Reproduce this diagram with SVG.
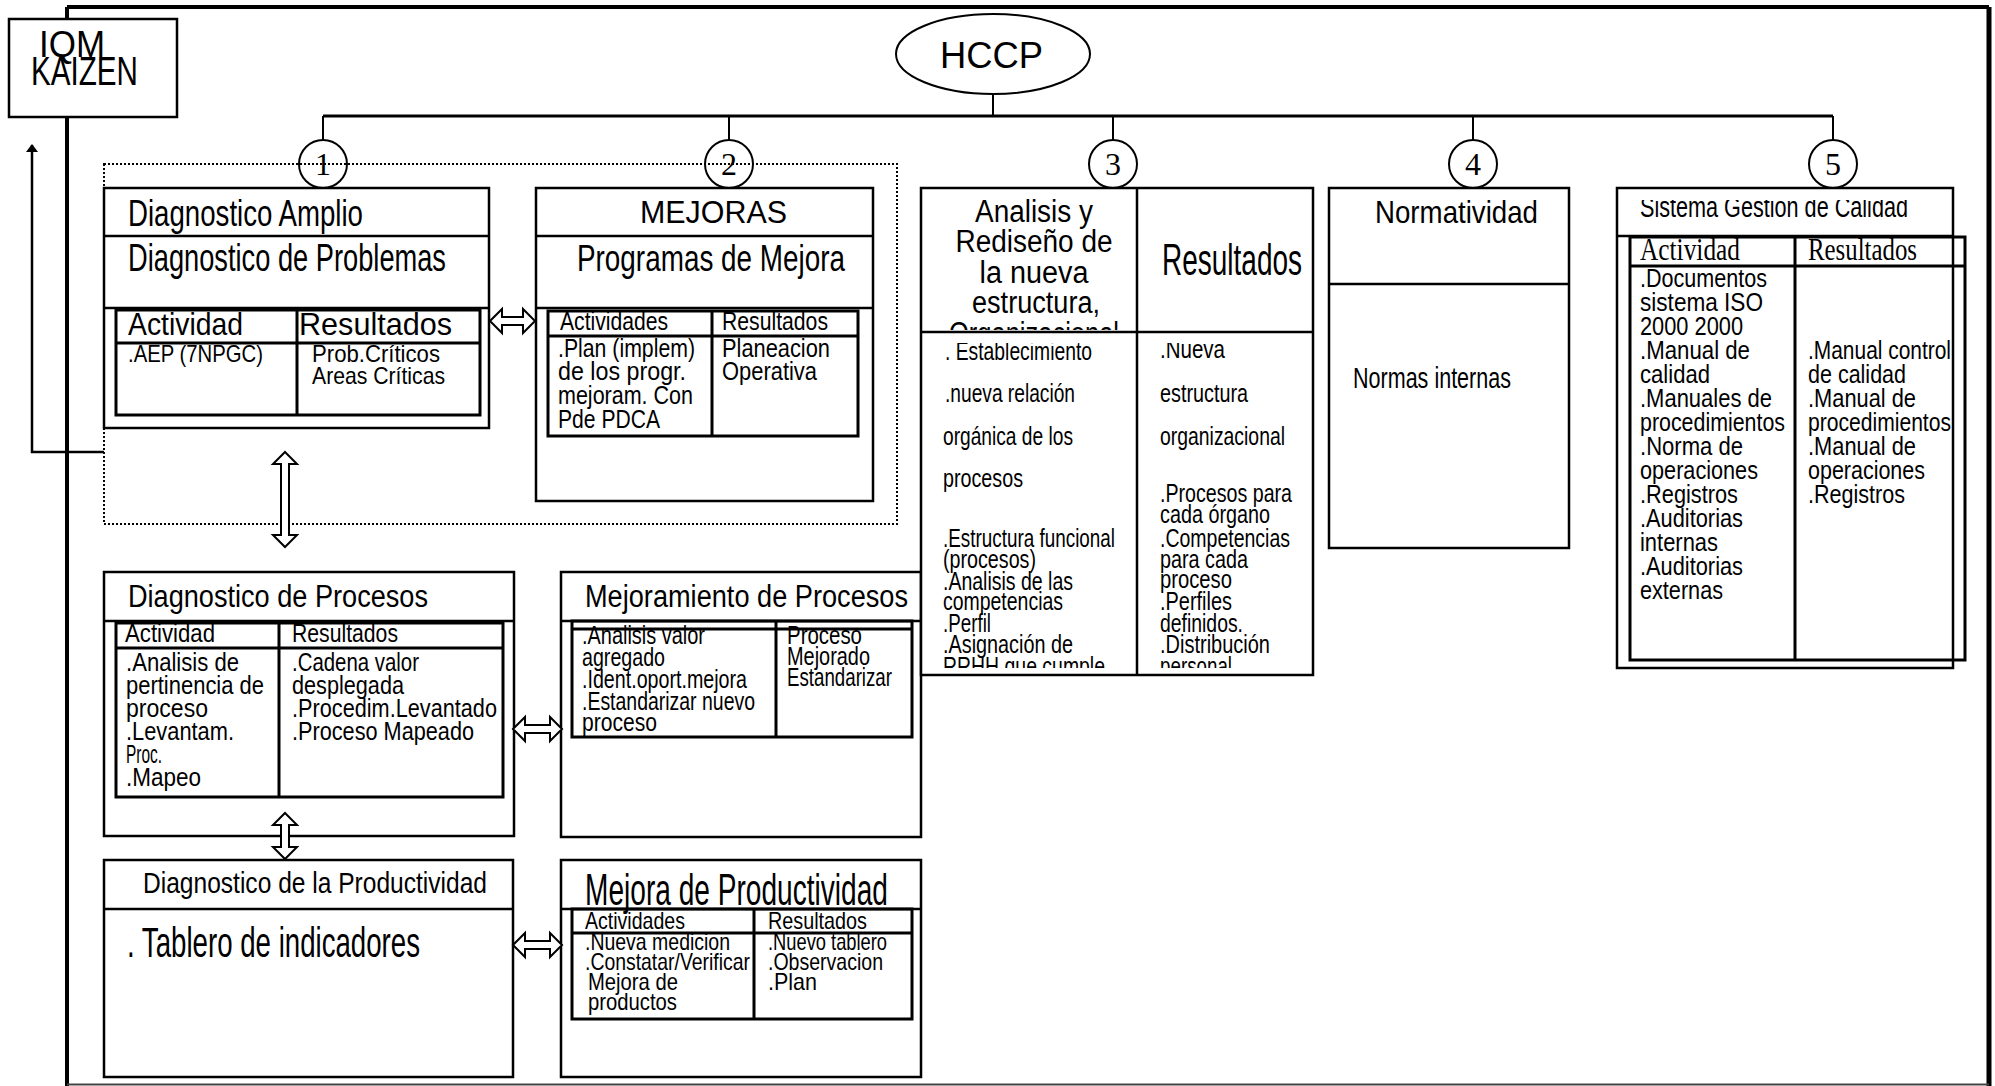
<svg xmlns="http://www.w3.org/2000/svg" width="1995" height="1086" viewBox="0 0 1995 1086">
  <style>
    .bx { fill: #fff; stroke: #000; stroke-width: 2.5; }
    .tb { fill: none; stroke: #000; stroke-width: 3; }
    .ln { fill: none; stroke: #000; stroke-width: 2.5; }
    .cn { fill: none; stroke: #000; stroke-width: 2; }
    .num { fill: none; stroke: #000; stroke-width: 2; }
    .dbl { fill: #fff; stroke: #000; stroke-width: 2; stroke-linejoin: miter; }
    .dot { fill: none; stroke: #000; stroke-width: 2; stroke-dasharray: 2 2; }
    text { font-family: "Liberation Sans", Arial, sans-serif; fill: #000; }
    .sf { font-family: "Liberation Serif", "Times New Roman", serif; }
  </style>
  <defs>
    <marker id="tip" markerUnits="userSpaceOnUse" markerWidth="8" markerHeight="12" refX="7" refY="6" orient="auto" viewBox="0 0 8 12">
      <path d="M0,0 L8,6 L0,12 Z" fill="#000"/>
    </marker>
    <clipPath id="c3h"><rect x="921" y="190" width="216" height="140"/></clipPath>
    <clipPath id="c3b"><rect x="921" y="343" width="392" height="325"/></clipPath>
    <clipPath id="c5t"><rect x="1617" y="200" width="336" height="35"/></clipPath>
  </defs>

  <rect width="1995" height="1086" fill="#fff"/>

  <!-- outer frame -->
  <g id="frame">
    <path d="M67,7 H1989" stroke="#000" stroke-width="4" fill="none"/>
    <path d="M67,7 V1086" stroke="#000" stroke-width="4" fill="none"/>
    <path d="M1989,7 V1086" stroke="#000" stroke-width="5" fill="none"/>
    <path d="M67,1084.5 H1989" stroke="#444" stroke-width="2" fill="none"/>
  </g>

  <!-- dotted grouping around stages 1 and 2 -->
  <rect class="dot" x="104" y="164" width="793" height="360"/>

  <!-- top nodes -->
  <g id="n-iqm">
    <rect class="bx" x="9" y="19" width="168" height="98"/>
    <text x="39" y="57" font-size="37" textLength="66" lengthAdjust="spacingAndGlyphs">IQM</text>
    <text x="31" y="85" font-size="40" textLength="107" lengthAdjust="spacingAndGlyphs">KAIZEN</text>
  </g>

  <g id="n-hccp">
    <ellipse cx="993" cy="54" rx="97" ry="40" fill="#fff" stroke="#000" stroke-width="2"/>
    <text x="940" y="68" font-size="36" textLength="103" lengthAdjust="spacingAndGlyphs">HCCP</text>
  </g>

  <!-- stage 1 -->
  <g id="n-diag-amplio">
    <rect class="bx" x="104" y="188" width="385" height="240"/>
    <path class="ln" d="M104,236 H489 M104,308 H489"/>
    <rect class="tb" x="116" y="310" width="364" height="105"/>
    <path class="tb" d="M116,343 H480 M297,310 V415"/>
    <text x="128" y="226" font-size="36" textLength="235" lengthAdjust="spacingAndGlyphs">Diagnostico Amplio</text>
    <text x="128" y="271" font-size="38" textLength="318" lengthAdjust="spacingAndGlyphs">Diagnostico de Problemas</text>
    <text x="128" y="335" font-size="32" textLength="115" lengthAdjust="spacingAndGlyphs">Actividad</text>
    <text x="299" y="335" font-size="32" textLength="153" lengthAdjust="spacingAndGlyphs">Resultados</text>
    <text x="128" y="362" font-size="24" textLength="135" lengthAdjust="spacingAndGlyphs">.AEP (7NPGC)</text>
    <text x="312" y="362" font-size="24" textLength="128" lengthAdjust="spacingAndGlyphs">Prob.Críticos</text>
    <text x="312" y="384" font-size="24" textLength="133" lengthAdjust="spacingAndGlyphs">Areas Críticas</text>
  </g>

  <!-- stage 2 -->
  <g id="n-mejoras">
    <rect class="bx" x="536" y="188" width="337" height="313"/>
    <path class="ln" d="M536,236 H873 M536,308 H873"/>
    <rect class="tb" x="548" y="311" width="310" height="125"/>
    <path class="tb" d="M548,336 H858 M712,311 V436"/>
    <text x="640" y="223" font-size="32" textLength="147" lengthAdjust="spacingAndGlyphs">MEJORAS</text>
    <text x="577" y="271" font-size="37" textLength="268" lengthAdjust="spacingAndGlyphs">Programas de Mejora</text>
    <text x="560" y="330" font-size="26" textLength="108" lengthAdjust="spacingAndGlyphs">Actividades</text>
    <text x="722" y="330" font-size="26" textLength="106" lengthAdjust="spacingAndGlyphs">Resultados</text>
    <text x="558" y="357" font-size="26" textLength="137" lengthAdjust="spacingAndGlyphs">.Plan (implem)</text>
    <text x="558" y="380" font-size="26" textLength="128" lengthAdjust="spacingAndGlyphs">de los progr.</text>
    <text x="558" y="404" font-size="26" textLength="135" lengthAdjust="spacingAndGlyphs">mejoram. Con</text>
    <text x="558" y="428" font-size="26" textLength="102" lengthAdjust="spacingAndGlyphs">Pde PDCA</text>
    <text x="722" y="357" font-size="26" textLength="108" lengthAdjust="spacingAndGlyphs">Planeacion</text>
    <text x="722" y="380" font-size="26" textLength="95" lengthAdjust="spacingAndGlyphs">Operativa</text>
  </g>

  <g id="n-diag-procesos">
    <rect class="bx" x="104" y="572" width="410" height="264"/>
    <path class="ln" d="M104,621 H514"/>
    <rect class="tb" x="116" y="623" width="387" height="174"/>
    <path class="tb" d="M116,648 H503 M279,623 V797"/>
    <text x="128" y="607" font-size="31" textLength="300" lengthAdjust="spacingAndGlyphs">Diagnostico de Procesos</text>
    <text x="125" y="642" font-size="26" textLength="90" lengthAdjust="spacingAndGlyphs">Actividad</text>
    <text x="292" y="642" font-size="26" textLength="106" lengthAdjust="spacingAndGlyphs">Resultados</text>
    <text x="126" y="671" font-size="25" textLength="113" lengthAdjust="spacingAndGlyphs">.Analisis de</text>
    <text x="126" y="694" font-size="25" textLength="138" lengthAdjust="spacingAndGlyphs">pertinencia de</text>
    <text x="126" y="717" font-size="25" textLength="82" lengthAdjust="spacingAndGlyphs">proceso</text>
    <text x="126" y="740" font-size="25" textLength="108" lengthAdjust="spacingAndGlyphs">.Levantam.</text>
    <text x="126" y="763" font-size="25" textLength="36" lengthAdjust="spacingAndGlyphs">Proc.</text>
    <text x="126" y="786" font-size="25" textLength="75" lengthAdjust="spacingAndGlyphs">.Mapeo</text>
    <text x="292" y="671" font-size="25" textLength="127" lengthAdjust="spacingAndGlyphs">.Cadena valor</text>
    <text x="292" y="694" font-size="25" textLength="112" lengthAdjust="spacingAndGlyphs">desplegada</text>
    <text x="292" y="717" font-size="25" textLength="205" lengthAdjust="spacingAndGlyphs">.Procedim.Levantado</text>
    <text x="292" y="740" font-size="25" textLength="182" lengthAdjust="spacingAndGlyphs">.Proceso Mapeado</text>
  </g>

  <g id="n-mejoramiento-procesos">
    <rect class="bx" x="561" y="572" width="360" height="265"/>
    <path class="ln" d="M561,621 H921"/>
    <rect class="tb" x="572" y="621" width="340" height="116"/>
    <path class="tb" d="M572,629 H912 M776,621 V737"/>
    <text x="585" y="607" font-size="31" textLength="323" lengthAdjust="spacingAndGlyphs">Mejoramiento de Procesos</text>
    <text x="582" y="644" font-size="25" textLength="123" lengthAdjust="spacingAndGlyphs">.Analisis valor</text>
    <text x="582" y="666" font-size="25" textLength="83" lengthAdjust="spacingAndGlyphs">agregado</text>
    <text x="582" y="688" font-size="25" textLength="165" lengthAdjust="spacingAndGlyphs">.Ident.oport.mejora</text>
    <text x="582" y="710" font-size="25" textLength="173" lengthAdjust="spacingAndGlyphs">.Estandarizar nuevo</text>
    <text x="582" y="731" font-size="25" textLength="75" lengthAdjust="spacingAndGlyphs">proceso</text>
    <text x="787" y="644" font-size="25" textLength="75" lengthAdjust="spacingAndGlyphs">Proceso</text>
    <text x="787" y="665" font-size="25" textLength="83" lengthAdjust="spacingAndGlyphs">Mejorado</text>
    <text x="787" y="686" font-size="25" textLength="105" lengthAdjust="spacingAndGlyphs">Estandarizar</text>
  </g>

  <g id="n-diag-productividad">
    <rect class="bx" x="104" y="860" width="409" height="217"/>
    <path class="ln" d="M104,909 H513"/>
    <text x="143" y="893" font-size="29" textLength="344" lengthAdjust="spacingAndGlyphs">Diagnostico de la Productividad</text>
    <text x="127" y="957" font-size="42" textLength="293" lengthAdjust="spacingAndGlyphs">. Tablero de indicadores</text>
  </g>

  <g id="n-mejora-productividad">
    <rect class="bx" x="561" y="860" width="360" height="217"/>
    <path class="ln" d="M561,909 H921"/>
    <rect class="tb" x="572" y="909" width="340" height="110"/>
    <path class="tb" d="M572,933 H912 M754,909 V1019"/>
    <text x="585" y="905" font-size="45" textLength="303" lengthAdjust="spacingAndGlyphs">Mejora de Productividad</text>
    <text x="585" y="929" font-size="24" textLength="100" lengthAdjust="spacingAndGlyphs">Actividades</text>
    <text x="768" y="929" font-size="24" textLength="99" lengthAdjust="spacingAndGlyphs">Resultados</text>
    <text x="585" y="950" font-size="24" textLength="145" lengthAdjust="spacingAndGlyphs">.Nueva medicion</text>
    <text x="585" y="970" font-size="24" textLength="165" lengthAdjust="spacingAndGlyphs">.Constatar/Verificar</text>
    <text x="588" y="990" font-size="24" textLength="90" lengthAdjust="spacingAndGlyphs">Mejora de</text>
    <text x="588" y="1010" font-size="24" textLength="89" lengthAdjust="spacingAndGlyphs">productos</text>
    <text x="768" y="950" font-size="24" textLength="119" lengthAdjust="spacingAndGlyphs">.Nuevo tablero</text>
    <text x="768" y="970" font-size="24" textLength="115" lengthAdjust="spacingAndGlyphs">.Observacion</text>
    <text x="768" y="990" font-size="24" textLength="49" lengthAdjust="spacingAndGlyphs">.Plan</text>
  </g>

  <!-- stage 3 -->
  <g id="n-analisis-rediseno">
    <rect class="bx" x="921" y="188" width="392" height="487"/>
    <path class="ln" d="M921,332 H1313 M1137,188 V675"/>
    <g clip-path="url(#c3h)" text-anchor="middle">
      <text x="1034" y="222" font-size="31" textLength="118" lengthAdjust="spacingAndGlyphs">Analisis y</text>
      <text x="1034" y="252" font-size="31" textLength="157" lengthAdjust="spacingAndGlyphs">Rediseño de</text>
      <text x="1034" y="283" font-size="31" textLength="109" lengthAdjust="spacingAndGlyphs">la nueva</text>
      <text x="1036" y="313" font-size="31" textLength="128" lengthAdjust="spacingAndGlyphs">estructura,</text>
      <text x="1034" y="344" font-size="31" textLength="170" lengthAdjust="spacingAndGlyphs">Organizacional</text>
    </g>
    <text x="1162" y="275" font-size="45" textLength="140" lengthAdjust="spacingAndGlyphs">Resultados</text>
    <g clip-path="url(#c3b)">
      <text x="945" y="360" font-size="26" textLength="147" lengthAdjust="spacingAndGlyphs">. Establecimiento</text>
      <text x="945" y="402" font-size="26" textLength="130" lengthAdjust="spacingAndGlyphs">.nueva relación</text>
      <text x="943" y="445" font-size="26" textLength="130" lengthAdjust="spacingAndGlyphs">orgánica de los</text>
      <text x="943" y="487" font-size="26" textLength="80" lengthAdjust="spacingAndGlyphs">procesos</text>
      <text x="943" y="547" font-size="26" textLength="172" lengthAdjust="spacingAndGlyphs">.Estructura funcional</text>
      <text x="943" y="568" font-size="26" textLength="93" lengthAdjust="spacingAndGlyphs">(procesos)</text>
      <text x="943" y="590" font-size="26" textLength="130" lengthAdjust="spacingAndGlyphs">.Analisis de las</text>
      <text x="943" y="610" font-size="26" textLength="120" lengthAdjust="spacingAndGlyphs">competencias</text>
      <text x="943" y="632" font-size="26" textLength="48" lengthAdjust="spacingAndGlyphs">.Perfil</text>
      <text x="943" y="653" font-size="26" textLength="130" lengthAdjust="spacingAndGlyphs">.Asignación de</text>
      <text x="943" y="675" font-size="26" textLength="162" lengthAdjust="spacingAndGlyphs">RRHH que cumple</text>
      <text x="1160" y="358" font-size="26" textLength="65" lengthAdjust="spacingAndGlyphs">.Nueva</text>
      <text x="1160" y="402" font-size="26" textLength="88" lengthAdjust="spacingAndGlyphs">estructura</text>
      <text x="1160" y="445" font-size="26" textLength="125" lengthAdjust="spacingAndGlyphs">organizacional</text>
      <text x="1160" y="502" font-size="26" textLength="132" lengthAdjust="spacingAndGlyphs">.Procesos para</text>
      <text x="1160" y="523" font-size="26" textLength="110" lengthAdjust="spacingAndGlyphs">cada órgano</text>
      <text x="1160" y="547" font-size="26" textLength="130" lengthAdjust="spacingAndGlyphs">.Competencias</text>
      <text x="1160" y="568" font-size="26" textLength="88" lengthAdjust="spacingAndGlyphs">para cada</text>
      <text x="1160" y="588" font-size="26" textLength="72" lengthAdjust="spacingAndGlyphs">proceso</text>
      <text x="1160" y="610" font-size="26" textLength="72" lengthAdjust="spacingAndGlyphs">.Perfiles</text>
      <text x="1160" y="632" font-size="26" textLength="83" lengthAdjust="spacingAndGlyphs">definidos.</text>
      <text x="1160" y="653" font-size="26" textLength="110" lengthAdjust="spacingAndGlyphs">.Distribución</text>
      <text x="1160" y="675" font-size="26" textLength="72" lengthAdjust="spacingAndGlyphs">personal</text>
    </g>
  </g>

  <!-- stage 4 -->
  <g id="n-normatividad">
    <rect class="bx" x="1329" y="188" width="240" height="360"/>
    <path class="ln" d="M1329,284 H1569"/>
    <text x="1375" y="223" font-size="32" textLength="163" lengthAdjust="spacingAndGlyphs">Normatividad</text>
    <text x="1353" y="388" font-size="30" textLength="158" lengthAdjust="spacingAndGlyphs">Normas internas</text>
  </g>

  <!-- stage 5 -->
  <g id="n-sgc">
    <rect class="bx" x="1617" y="188" width="336" height="480"/>
    <path class="ln" d="M1617,236 H1953"/>
    <rect class="tb" x="1630" y="237" width="335" height="423"/>
    <path class="tb" d="M1630,266 H1965 M1795,237 V660"/>
    <g clip-path="url(#c5t)">
      <text x="1640" y="217" font-size="30" textLength="268" lengthAdjust="spacingAndGlyphs">Sistema Gestion de Calidad</text>
    </g>
    <text class="sf" x="1640" y="260" font-size="32" textLength="100" lengthAdjust="spacingAndGlyphs">Actividad</text>
    <text class="sf" x="1808" y="260" font-size="32" textLength="109" lengthAdjust="spacingAndGlyphs">Resultados</text>
    <text x="1640" y="287" font-size="26" textLength="127" lengthAdjust="spacingAndGlyphs">.Documentos</text>
    <text x="1640" y="311" font-size="26" textLength="123" lengthAdjust="spacingAndGlyphs">sistema ISO</text>
    <text x="1640" y="335" font-size="26" textLength="103" lengthAdjust="spacingAndGlyphs">2000 2000</text>
    <text x="1640" y="359" font-size="26" textLength="110" lengthAdjust="spacingAndGlyphs">.Manual de</text>
    <text x="1640" y="383" font-size="26" textLength="70" lengthAdjust="spacingAndGlyphs">calidad</text>
    <text x="1640" y="407" font-size="26" textLength="132" lengthAdjust="spacingAndGlyphs">.Manuales de</text>
    <text x="1640" y="431" font-size="26" textLength="145" lengthAdjust="spacingAndGlyphs">procedimientos</text>
    <text x="1640" y="455" font-size="26" textLength="103" lengthAdjust="spacingAndGlyphs">.Norma de</text>
    <text x="1640" y="479" font-size="26" textLength="118" lengthAdjust="spacingAndGlyphs">operaciones</text>
    <text x="1640" y="503" font-size="26" textLength="98" lengthAdjust="spacingAndGlyphs">.Registros</text>
    <text x="1640" y="527" font-size="26" textLength="103" lengthAdjust="spacingAndGlyphs">.Auditorias</text>
    <text x="1640" y="551" font-size="26" textLength="78" lengthAdjust="spacingAndGlyphs">internas</text>
    <text x="1640" y="575" font-size="26" textLength="103" lengthAdjust="spacingAndGlyphs">.Auditorias</text>
    <text x="1640" y="599" font-size="26" textLength="83" lengthAdjust="spacingAndGlyphs">externas</text>
    <text x="1808" y="359" font-size="26" textLength="143" lengthAdjust="spacingAndGlyphs">.Manual control</text>
    <text x="1808" y="383" font-size="26" textLength="98" lengthAdjust="spacingAndGlyphs">de calidad</text>
    <text x="1808" y="407" font-size="26" textLength="108" lengthAdjust="spacingAndGlyphs">.Manual de</text>
    <text x="1808" y="431" font-size="26" textLength="143" lengthAdjust="spacingAndGlyphs">procedimientos</text>
    <text x="1808" y="455" font-size="26" textLength="108" lengthAdjust="spacingAndGlyphs">.Manual de</text>
    <text x="1808" y="479" font-size="26" textLength="117" lengthAdjust="spacingAndGlyphs">operaciones</text>
    <text x="1808" y="503" font-size="26" textLength="97" lengthAdjust="spacingAndGlyphs">.Registros</text>
  </g>

  <!-- connectors, drawn last so the block arrows sit over box edges -->
  <g id="connectors">
    <path class="cn" d="M993,94 V116"/>
    <path d="M323,116 H1833" stroke="#000" stroke-width="3" fill="none"/>
    <path class="cn" d="M323,116 V140 M729,116 V140 M1113,116 V140 M1473,116 V140 M1833,116 V140"/>
    <path d="M104,452 H32 V145" stroke="#000" stroke-width="2.5" fill="none" marker-end="url(#tip)"/>
    <!-- horizontal double block arrows -->
    <polygon class="dbl" points="490,321 502,309 502,317 523,317 523,309 535,321 523,333 523,325 502,325 502,333"/>
    <polygon class="dbl" points="513,729 525,717 525,725 550,725 550,717 562,729 550,741 550,733 525,733 525,741"/>
    <polygon class="dbl" points="513,945 525,933 525,941 550,941 550,933 562,945 550,957 550,949 525,949 525,957"/>
    <!-- vertical double block arrows -->
    <polygon class="dbl" points="285,452 297,464 289,464 289,535 297,535 285,547 273,535 281,535 281,464 273,464"/>
    <polygon class="dbl" points="285,813 297,825 289,825 289,847 297,847 285,859 273,847 281,847 281,825 273,825"/>
  </g>

  <!-- stage numbers -->
  <g id="n-num">
    <circle class="num" cx="323" cy="164" r="24"/>
    <circle class="num" cx="729" cy="164" r="24"/>
    <circle class="num" cx="1113" cy="164" r="24"/>
    <circle class="num" cx="1473" cy="164" r="24"/>
    <circle class="num" cx="1833" cy="164" r="24"/>
    <text class="sf" x="323" y="175" font-size="32" text-anchor="middle">1</text>
    <text class="sf" x="729" y="175" font-size="32" text-anchor="middle">2</text>
    <text class="sf" x="1113" y="175" font-size="32" text-anchor="middle">3</text>
    <text class="sf" x="1473" y="175" font-size="32" text-anchor="middle">4</text>
    <text class="sf" x="1833" y="175" font-size="32" text-anchor="middle">5</text>
  </g>
</svg>
